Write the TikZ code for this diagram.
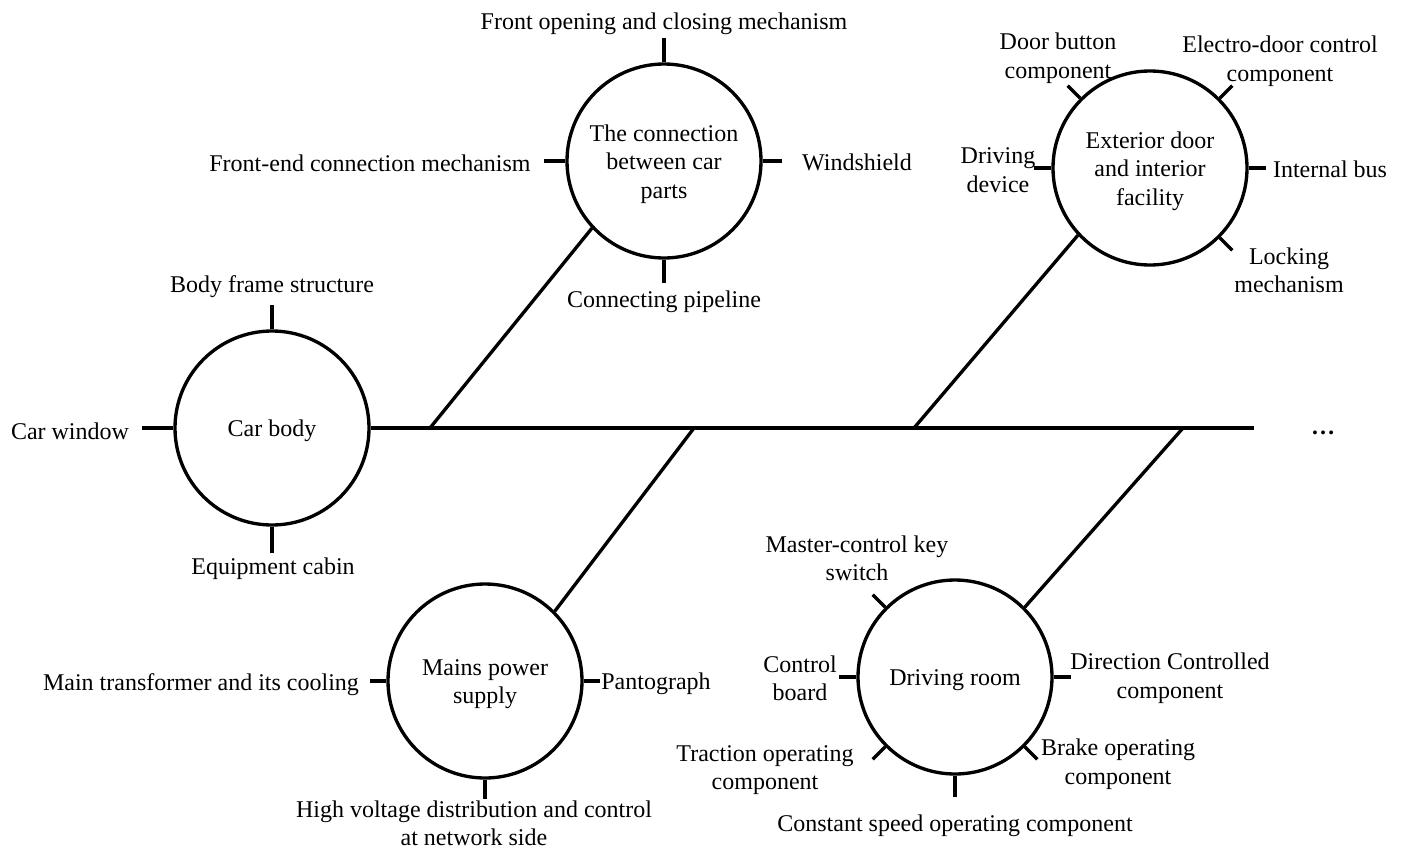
\documentclass[tikz,border=0pt]{standalone}
\usepackage{fontspec}
\setmainfont{Liberation Serif}
\usetikzlibrary{calc}
\begin{document}
\begin{tikzpicture}[x=0.75pt,y=-0.75pt,
  txt/.style={font=\fontsize{18pt}{21.5pt}\selectfont, align=center, inner sep=0pt, yshift=-1.6pt},
  hubtxt/.style={font=\fontsize{18pt}{21.5pt}\selectfont, align=center, inner sep=0pt, yshift=-2.3pt},
  hub/.style={circle, draw, line width=2.5pt, minimum size=145.5pt, inner sep=0pt},
  tick/.style={line width=2.5pt},
  bone/.style={line width=2.5pt}]
\useasboundingbox (0,0) rectangle (1410,850);

% hubs
\node[hub] (c1) at (272,428) {};
\node[hub] (c2) at (664,161) {};
\node[hub] (c3) at (1150,168) {};
\node[hub] (c4) at (485,681) {};
\node[hub] (c5) at (955,677) {};
\node[hubtxt] (t1) at (c1.center) {Car body};
\node[hubtxt] (t2) at (c2.center) {The connection\\between car\\parts};
\node[hubtxt] (t3) at (c3.center) {Exterior door\\and interior\\facility};
\node[hubtxt] (t4) at (c4.center) {Mains power\\supply};
\node[hubtxt] (t5) at (c5.center) {Driving room};

% spine
\coordinate (j1) at (430,428);
\coordinate (j2) at (694,428);
\coordinate (j3) at (914,428);
\coordinate (j4) at (1183,428);
\coordinate (send) at (1254,428);
\draw[bone] (c1.east) -- (send);
\draw[bone] (j1) -- (c2.223);
\draw[bone] (j3) -- (c3.223);
\draw[bone] (j2) -- (c4.45);
\draw[bone] (j4) -- (c5.45);
\node[txt] (dots) at (1323,431) {\bfseries …};

% car body
\draw[tick] (c1.90) -- ($(c1.center)!1.25!(c1.90)$);
\draw[tick] (c1.180) -- ($(c1.center)!1.32!(c1.180)$);
\draw[tick] (c1.270) -- ($(c1.center)!1.27!(c1.270)$);
\node[txt] (l11) at (272,285) {Body frame structure};
\node[txt] (l12) at (70,429) {Car window};
\node[txt] (l13) at (273,567) {Equipment cabin};

% connection
\draw[tick] (c2.90) -- ($(c2.center)!1.25!(c2.90)$);
\draw[tick] (c2.180) -- ($(c2.center)!1.22!(c2.180)$);
\draw[tick] (c2.0) -- ($(c2.center)!1.2!(c2.0)$);
\draw[tick] (c2.270) -- ($(c2.center)!1.24!(c2.270)$);
\node[txt] (l21) at (664,22) {Front opening and closing mechanism};
\node[txt] (l22) at (370,161) {Front-end connection mechanism};
\node[txt] (l23) at (857,160) {Windshield};
\node[txt] (l24) at (664,300) {Connecting pipeline};

% exterior door
\draw[tick] (c3.180) -- ($(c3.center)!1.18!(c3.180)$);
\draw[tick] (c3.0) -- ($(c3.center)!1.18!(c3.0)$);
\draw[tick] (c3.135) -- ($(c3.center)!1.18!(c3.135)$);
\draw[tick] (c3.45) -- ($(c3.center)!1.18!(c3.45)$);
\draw[tick] (c3.-45) -- ($(c3.center)!1.18!(c3.-45)$);
\node[txt] (l31) at (1058,56) {Door button\\component};
\node[txt] (l32) at (1280,59) {Electro-door control\\component};
\node[txt] (l33) at (998,168) {Driving\\device};
\node[txt] (l34) at (1330,167) {Internal bus};
\node[txt] (l35) at (1289,268) {Locking\\mechanism};

% mains power
\draw[tick] (c4.180) -- ($(c4.center)!1.17!(c4.180)$);
\draw[tick] (c4.0) -- ($(c4.center)!1.17!(c4.0)$);
\draw[tick] (c4.270) -- ($(c4.center)!1.2!(c4.270)$);
\node[txt] (l41) at (201,682) {Main transformer and its cooling};
\node[txt] (l42) at (656,682) {Pantograph};
\node[txt] (l43) at (474,821) {High voltage distribution and control\\at network side};

% driving room
\draw[tick] (c5.180) -- ($(c5.center)!1.18!(c5.180)$);
\draw[tick] (c5.0) -- ($(c5.center)!1.18!(c5.0)$);
\draw[tick] (c5.135) -- ($(c5.center)!1.18!(c5.135)$);
\draw[tick] (c5.225) -- ($(c5.center)!1.18!(c5.225)$);
\draw[tick] (c5.-45) -- ($(c5.center)!1.18!(c5.-45)$);
\draw[tick] (c5.270) -- ($(c5.center)!1.22!(c5.270)$);
\node[txt] (l51) at (857,556) {Master-control key\\switch};
\node[txt] (l52) at (800,676) {Control\\board};
\node[txt] (l53) at (1170,676) {Direction Controlled\\component};
\node[txt] (l54) at (765,768) {Traction operating\\component};
\node[txt] (l55) at (1118,762) {Brake operating\\component};
\node[txt] (l56) at (955,824) {Constant speed operating component};
\end{tikzpicture}
\end{document}
